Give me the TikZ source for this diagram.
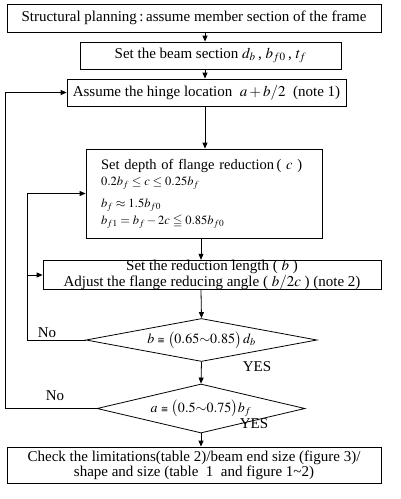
\documentclass[tikz,border=0pt]{standalone}
\usepackage{amsmath}
\usepackage{amssymb}
\usepackage{mathptmx}
\usepackage{fontspec}
\setmainfont{Liberation Serif}
\newfontfamily\congfont{DejaVu Sans}
\newcommand{\apxeq}{\mathrel{\text{\congfont\small ≅}}}
\usetikzlibrary{arrows.meta,shapes.geometric}

\begin{document}
\begin{tikzpicture}[x=1pt, y=-1pt,
  font=\fontsize{15}{15}\selectfont,
  >={Triangle[length=6pt,width=5pt]},
  procbox/.style={draw=black, line width=0.8pt, inner sep=0pt, align=center},
  decbox/.style={draw=black, line width=0.8pt, diamond, inner sep=0pt, font=\fontsize{14}{14}\selectfont},
  flow/.style={line width=0.8pt, ->}]
  \useasboundingbox (0,0) rectangle (400,499);

  \node[procbox, minimum width=374pt, minimum height=28pt] (PLAN) at (194,18)
    {Structural planning\,:\,assume member section of the frame};
  \node[procbox, minimum width=261pt, minimum height=27pt] (BEAM) at (210.5,55.5)
    {Set the beam section $d_b$\,, $b_{f0}$\,, $t_f$};
  \node[procbox, minimum width=279pt, minimum height=27pt] (HINGE) at (206.5,92.5)
    {Assume the hinge location\ \ $a+b/2$\ \ (note 1)};
  \node[procbox, align=left, text width=206pt, inner xsep=15pt, minimum height=89pt,
        font=\fontsize{14.5}{16}\selectfont] (DEPTH) at (204,193.5)
    {Set depth of flange reduction\,( $c$ )\\
     \fontsize{12.5}{16}\selectfont
     $0.2b_f \le c \le 0.25b_f$\\[6pt]
     $b_f \approx 1.5b_{f0}$\\[1pt]
     $b_{f1} = b_f - 2c \leqq 0.85b_{f0}$\\[3pt]};
  \node[procbox, minimum width=338pt, minimum height=28pt,
        font=\fontsize{15}{13.5}\selectfont] (LENGTH) at (212,275)
    {Set the reduction length ( $b$ )\\
     Adjust the flange reducing angle ( $b/2c$ ) (note 2)};
  \node[decbox, aspect=5.37, minimum width=231pt, minimum height=43pt] (D1) at (201.5,340)
    {$b \apxeq \bigl(0.65{\sim}0.85\bigr)\, d_b$};
  \node[decbox, aspect=4.24, minimum width=208pt, minimum height=49pt] (D2) at (201,408.5)
    {$a \apxeq \bigl(0.5{\sim}0.75\bigr) b_f$};
  \node[procbox, minimum width=374pt, minimum height=36pt] (CHECK) at (194,465)
    {Check the limitations(table 2)/beam end size (figure 3)/\\
     shape and size (table\ \ 1\ \ and figure 1\textasciitilde 2)};

  \node (NO1) at (47,333) {No};
  \node (YES1) at (257,367) {YES};
  \node (NO2) at (55,396) {No};
  \node (YES2) at (254,424) {YES};

  \coordinate (AX) at (205,0);
  \coordinate (BX) at (201,0);
  \coordinate (LA) at (27,0);
  \coordinate (LB) at (5,0);

  \draw[flow] (PLAN.south -| AX) -- (BEAM.north -| AX);
  \draw[flow] (BEAM.south -| AX) -- (HINGE.north -| AX);
  \draw[flow] (HINGE.south -| AX) -- (DEPTH.north -| AX);
  \draw[flow] (DEPTH.south -| BX) -- (LENGTH.north -| BX);
  \draw[flow] (LENGTH.south -| BX) -- (D1.north);
  \draw[flow] (D1.south) -- (D2.north);
  \draw[flow] (D2.south) -- (CHECK.north -| D2.south);

  \draw[flow] (D1.west) -- (D1.west -| LA) |- (DEPTH.west);
  \draw[flow] (LENGTH.west -| LA) -- (LENGTH.west);
  \draw[flow] (D2.west) -- (D2.west -| LB) |- (HINGE.west);
\end{tikzpicture}
\end{document}
